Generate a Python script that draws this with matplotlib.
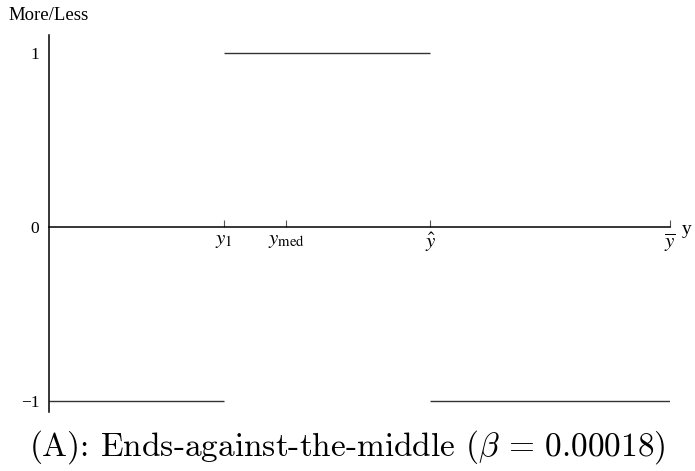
import matplotlib.pyplot as plt

# step levels of the more/less response between breakpoints
breaks = [0.0, 0.282, 0.614, 1.0]
levels = [-1, 1, -1]

tick_pos = [0.282, 0.382, 0.614, 1.0]
tick_labels = [r'$y_1$', r'$y_{\rm med}$', r'$\hat{y}$', r'$\overline{y}$']
ytick_pos = [-1, 0, 1]
ytick_labels = ['\u22121', '0', '1']

plt.rcParams['font.family'] = ['Liberation Serif', 'DejaVu Serif']
plt.rcParams['mathtext.fontset'] = 'stix'

fig = plt.figure(figsize=(6.95, 4.71), dpi=100)
ax = fig.add_axes([49/695, 59/471, 621/695, 377/471])

for i in range(len(levels)):
    ax.hlines(levels[i], breaks[i], breaks[i+1], color='#333333', lw=1.0)

ax.set_xlim(0, 1.0)
ax.set_ylim(-1.063, 1.103)
ax.spines['left'].set_position(('data', 0))
ax.spines['bottom'].set_position(('data', 0))
ax.spines['right'].set_visible(False)
ax.spines['top'].set_visible(False)
ax.spines['left'].set_linewidth(1.1)
ax.spines['bottom'].set_linewidth(1.1)

ax.set_xticks(tick_pos)
ax.set_xticklabels(tick_labels, fontsize=15)
ax.tick_params(axis='x', direction='in', length=5, width=0.8, color='#555555', pad=3)
ax.set_yticks(ytick_pos)
ax.set_yticklabels(ytick_labels, fontsize=12.5)
ax.tick_params(axis='y', length=0, pad=7)

fig.text(8/695, 1 - 16/471, 'More/Less', fontsize=13.5, ha='left', va='center')
fig.text(687/695, 1 - 229/471, 'y', fontsize=14, ha='center', va='center')

fig.text(347/695, 1 - 447/471, r'(A): Ends-against-the-middle ($\beta\,=\,0.00018$)',
         family='cmr10', math_fontfamily='cm', fontsize=24, ha='center', va='center')

fig.savefig('out.png', dpi=100)
